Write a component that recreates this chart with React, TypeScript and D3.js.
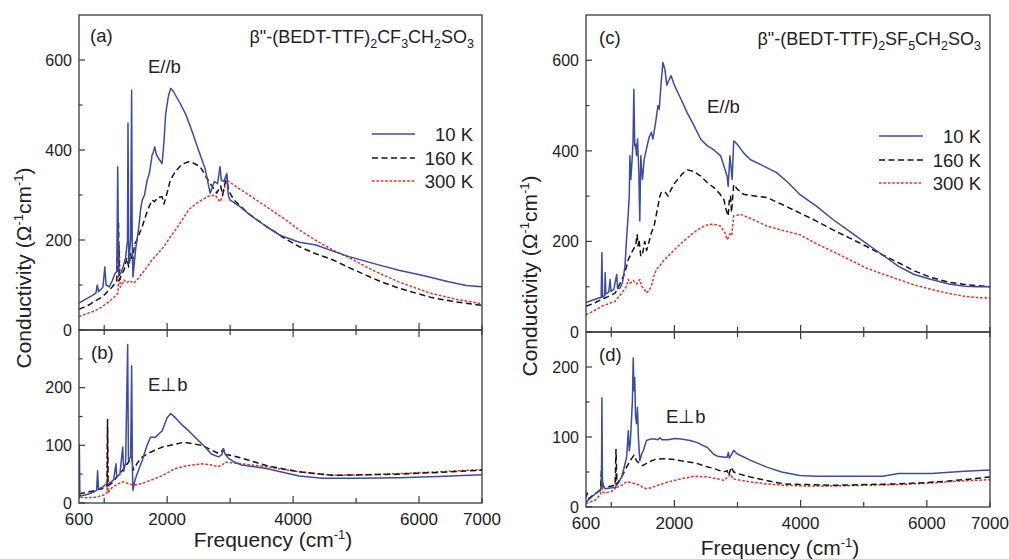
import React from 'react';
import * as d3 from 'd3';

type Pt = [number, number];

// ---------- tick values ----------
const freqTicks = [1000, 2000, 3000, 4000, 5000, 6000, 7000];
const freqMajor = [2000, 4000, 6000];
const freqLabels = [600, 2000, 4000, 6000, 7000];
const upperYLabels = [0, 200, 400, 600];
const upperYMinor = [100, 300, 500];
const lowerYLabels = [0, 100, 200];
const lowerBYMinor = [50, 150, 250];
const lowerDYMinor = [50, 150];
const legendLabels = ['10 K', '160 K', '300 K'];

// ---------- panel (a): CF3CH2SO3, E//b ----------
const a10K: Pt[] = [[600,60],[700,68],[800,76],[868,82],[890,100],[910,85],[980,95],[1010,140],[1030,100],[1080,96],[1130,110],[1170,125],[1200,130],[1215,363],[1230,126],[1262,126],[1300,140],[1340,160],[1370,200],[1378,460],[1390,150],[1420,200],[1436,533],[1445,200],[1457,118],[1500,180],[1551,230],[1580,270],[1605,289],[1640,300],[1683,333],[1720,350],[1762,389],[1780,395],[1803,407],[1830,389],[1870,380],[1920,370],[1950,420],[1977,481],[2020,520],[2056,537],[2100,530],[2200,505],[2290,481],[2400,440],[2497,400],[2600,360],[2683,304],[2750,330],[2800,325],[2840,363],[2860,333],[2900,330],[2946,348],[2970,300],[2997,289],[3155,274],[3350,252],[3576,230],[3800,210],[4101,195],[4365,189],[4600,177],[4890,163],[5300,147],[5679,133],[6100,120],[6468,107],[6750,99],[7000,96]];
const a160K: Pt[] = [[600,46],[700,52],[762,56],[850,64],[974,74],[1050,85],[1131,96],[1200,110],[1228,237],[1240,110],[1280,125],[1315,133],[1360,160],[1390,140],[1420,170],[1450,150],[1480,190],[1520,200],[1560,215],[1605,230],[1650,250],[1700,270],[1762,289],[1800,285],[1850,295],[1920,296],[1950,280],[1990,300],[2050,333],[2130,352],[2230,368],[2340,374],[2430,370],[2524,363],[2600,345],[2682,326],[2787,304],[2850,320],[2880,300],[2946,344],[2975,310],[3060,289],[3300,258],[3576,230],[3850,205],[4101,185],[4350,170],[4627,156],[4900,138],[5153,122],[5400,107],[5679,93],[5950,82],[6204,72],[6600,62],[7000,55]];
const a300K: Pt[] = [[600,30],[700,35],[800,40],[868,44],[950,50],[1078,63],[1150,72],[1220,82],[1240,185],[1255,95],[1315,111],[1360,105],[1400,110],[1473,104],[1540,115],[1605,126],[1680,140],[1762,156],[1850,170],[1947,185],[2040,205],[2131,222],[2240,245],[2340,267],[2450,280],[2552,289],[2650,297],[2762,300],[2840,285],[2870,295],[2900,310],[2946,333],[3060,322],[3300,300],[3576,274],[3850,248],[4101,222],[4350,200],[4627,178],[4900,160],[5153,141],[5400,124],[5679,107],[5950,93],[6204,81],[6600,68],[7000,58]];

// ---------- panel (b): CF3CH2SO3, E perp b ----------
const b10K: Pt[] = [[600,10],[605,100],[612,12],[700,14],[762,16],[850,20],[880,22],[895,56],[910,24],[980,28],[1020,32],[1078,34],[1150,40],[1187,68],[1200,45],[1250,50],[1294,97],[1310,55],[1340,70],[1373,275],[1385,74],[1420,80],[1436,238],[1448,60],[1457,22],[1490,40],[1526,51],[1605,74],[1680,100],[1736,114],[1815,114],[1870,120],[1920,125],[2000,148],[2056,155],[2130,148],[2240,135],[2344,125],[2480,110],[2603,97],[2700,85],[2814,80],[2870,84],[2893,94],[2920,85],[2970,78],[3050,72],[3181,66],[3576,60],[3850,53],[4096,47],[4465,43],[5000,43],[5679,44],[6300,46],[7000,49]];
const b160K: Pt[] = [[600,16],[700,18],[868,22],[1000,26],[1045,30],[1053,145],[1062,30],[1120,34],[1200,45],[1294,57],[1373,69],[1440,80],[1460,57],[1530,70],[1605,80],[1736,88],[1920,97],[2131,102],[2250,105],[2344,104],[2552,100],[2700,92],[2814,86],[2870,90],[2893,94],[2930,84],[3000,83],[3181,78],[3576,65],[3850,59],[4101,54],[4627,48],[5200,49],[5679,50],[6300,53],[7000,57]];
const b300K: Pt[] = [[600,8],[604,100],[610,10],[700,9],[868,10],[1000,14],[1045,18],[1053,131],[1062,18],[1136,28],[1200,32],[1294,37],[1400,33],[1473,31],[1605,34],[1750,40],[1870,45],[2000,52],[2131,60],[2340,65],[2552,68],[2700,66],[2814,63],[2880,66],[2918,71],[3000,70],[3181,68],[3576,63],[3850,58],[4101,54],[4627,48],[5200,49],[5679,51],[6300,54],[7000,58]];

// ---------- panel (c): SF5CH2SO3, E//b ----------
const c10K: Pt[] = [[600,65],[700,70],[800,75],[840,76],[852,175],[862,77],[895,80],[904,131],[915,84],[960,88],[982,116],[995,90],[1040,94],[1087,127],[1100,96],[1139,97],[1180,110],[1217,145],[1240,200],[1270,263],[1285,300],[1296,389],[1310,337],[1330,380],[1345,420],[1358,536],[1372,411],[1385,415],[1400,390],[1416,426],[1437,352],[1452,245],[1468,389],[1480,360],[1495,337],[1520,380],[1557,404],[1600,430],[1635,441],[1660,426],[1700,460],[1740,500],[1760,492],[1790,550],[1818,595],[1850,580],[1880,545],[1897,551],[1948,566],[2000,545],[2105,514],[2200,485],[2313,455],[2420,425],[2523,411],[2627,402],[2732,389],[2800,360],[2836,344],[2852,322],[2868,360],[2880,389],[2900,360],[2915,337],[2940,422],[2992,415],[3100,395],[3201,381],[3463,363],[3620,352],[3800,330],[3984,304],[4250,278],[4506,249],[4770,223],[5029,197],[5300,170],[5551,145],[5800,127],[6072,116],[6350,106],[6595,101],[6800,100],[7000,100]];
const c160K: Pt[] = [[600,57],[700,62],[852,72],[950,78],[1061,86],[1150,110],[1217,131],[1270,160],[1322,175],[1360,185],[1385,190],[1410,215],[1425,190],[1440,204],[1468,167],[1500,175],[1530,200],[1560,180],[1600,200],[1635,219],[1680,235],[1740,278],[1770,300],[1792,308],[1850,310],[1900,300],[1948,315],[2000,328],[2053,337],[2130,350],[2210,358],[2300,355],[2418,344],[2520,330],[2627,319],[2720,305],[2783,293],[2820,270],[2852,256],[2870,290],[2890,300],[2905,264],[2940,326],[3000,315],[3097,304],[3300,300],[3463,297],[3700,282],[3984,263],[4250,245],[4506,226],[4770,208],[5029,190],[5300,170],[5551,153],[5800,135],[6072,120],[6350,110],[6595,105],[7000,100]];
const c300K: Pt[] = [[600,38],[700,45],[852,57],[950,62],[1061,68],[1165,86],[1243,101],[1270,116],[1300,108],[1350,114],[1400,106],[1452,116],[1480,101],[1520,95],[1557,86],[1600,92],[1635,101],[1680,125],[1714,138],[1760,145],[1844,160],[1920,170],[2001,182],[2100,195],[2209,208],[2310,220],[2418,230],[2500,236],[2575,238],[2650,237],[2730,234],[2800,219],[2836,204],[2860,210],[2890,219],[2910,215],[2940,256],[3045,260],[3250,248],[3463,234],[3700,225],[3984,215],[4250,195],[4506,178],[4770,160],[5029,142],[5300,128],[5551,116],[5800,104],[6072,94],[6350,85],[6595,79],[6800,76],[7000,75]];

// ---------- panel (d): SF5CH2SO3, E perp b ----------
const d10K: Pt[] = [[600,7],[700,15],[748,19],[830,25],[845,30],[852,156],[860,38],[875,30],[904,26],[980,27],[1061,28],[1120,35],[1165,43],[1200,55],[1243,71],[1260,95],[1270,109],[1285,80],[1300,90],[1322,128],[1335,150],[1348,213],[1360,166],[1372,185],[1385,130],[1400,119],[1415,142],[1430,100],[1452,66],[1480,75],[1510,81],[1557,95],[1620,97],[1687,97],[1740,96],[1766,99],[1810,96],[1900,96],[2000,98],[2105,97],[2250,95],[2366,92],[2450,88],[2523,85],[2627,75],[2700,72],[2800,71],[2836,71],[2855,78],[2870,70],[2900,74],[2940,81],[2992,76],[3200,67],[3463,57],[3700,50],[3984,45],[4250,44],[4506,44],[5029,44],[5300,44],[5551,48],[6072,48],[6595,51],[7000,53]];
const d160K: Pt[] = [[600,14],[620,20],[640,12],[748,19],[830,24],[852,66],[862,30],[904,28],[1000,30],[1061,31],[1075,82],[1090,33],[1165,43],[1243,57],[1322,69],[1360,74],[1400,66],[1452,62],[1500,59],[1583,64],[1700,68],[1844,69],[2000,68],[2105,66],[2250,64],[2366,62],[2500,58],[2627,55],[2780,50],[2836,52],[2860,45],[2900,57],[2940,50],[2992,48],[3201,43],[3450,38],[3724,33],[4100,32],[4506,31],[5029,32],[5551,33],[6000,35],[6333,37],[6700,40],[7000,43]];
const d300K: Pt[] = [[600,5],[748,10],[830,18],[852,64],[862,22],[904,20],[1000,22],[1061,26],[1075,55],[1090,28],[1165,31],[1243,36],[1300,35],[1385,33],[1452,31],[1500,28],[1557,26],[1650,28],[1740,31],[1870,35],[2001,38],[2150,41],[2313,44],[2523,43],[2700,40],[2783,38],[2850,43],[2890,47],[2930,40],[3000,39],[3201,36],[3450,33],[3724,31],[4100,30],[4506,30],[5029,31],[5551,32],[6000,34],[6500,37],[7000,39]];

// ---------- styles ----------
const BLUE = '#3a4ca3';
const BLACK = '#151515';
const RED = '#e6321e';
const AXIS = '#3a3a3a';
const FONT = 'Arial, "Liberation Sans", Helvetica, sans-serif';
const seriesStyles = [
  { color: BLUE, dash: undefined as string | undefined, width: 1.5 },
  { color: BLACK, dash: '6,3.5', width: 1.5 },
  { color: RED, dash: '2.6,1.8', width: 1.5 },
];

interface PanelDef {
  x0: number; x1: number; top: number; bottom: number; ymax: number;
  labels: number[]; minor: number[]; data: Pt[][];
  isLower: boolean;
}

function Panel({ p }: { p: PanelDef }) {
  const x = d3.scaleLinear().domain([600, 7000]).range([p.x0, p.x1]);
  const y = d3.scaleLinear().domain([0, p.ymax]).range([p.bottom, p.top]);
  const line = d3.line<Pt>().x(d => x(d[0])).y(d => y(Math.min(d[1], p.ymax)));
  const clipId = `clip-${p.x0}-${p.top}`;
  return (
    <g>
      <defs>
        <clipPath id={clipId}>
          <rect x={p.x0} y={p.top} width={p.x1 - p.x0} height={p.bottom - p.top} />
        </clipPath>
      </defs>
      <g clipPath={`url(#${clipId})`}>
        {[2, 1, 0].map(i => (
          <path key={i} d={line(p.data[i]) || ''} fill="none" stroke={seriesStyles[i].color}
            strokeWidth={seriesStyles[i].width} strokeDasharray={seriesStyles[i].dash}
            strokeLinejoin="round" />
        ))}
      </g>
      <rect x={p.x0} y={p.top} width={p.x1 - p.x0} height={p.bottom - p.top}
        fill="none" stroke={AXIS} strokeWidth={1.3} />
      {p.labels.map(v => (
        <g key={'yl' + v}>
          <line x1={p.x0} x2={p.x0 + 6} y1={y(v)} y2={y(v)} stroke={AXIS} strokeWidth={1.2} />
          <text x={p.x0 - 7} y={y(v)} dy="0.36em" textAnchor="end" fontSize={16}
            fontFamily={FONT} fill="#222">{v}</text>
        </g>
      ))}
      {p.minor.map(v => (
        <line key={'ym' + v} x1={p.x0} x2={p.x0 + 3.5} y1={y(v)} y2={y(v)} stroke={AXIS} strokeWidth={1.2} />
      ))}
      {freqTicks.map(f => {
        const len = freqMajor.includes(f) ? 7 : 5;
        return <line key={'xb' + f} x1={x(f)} x2={x(f)} y1={p.bottom} y2={p.bottom - len} stroke={AXIS} strokeWidth={1.2} />;
      })}
      {p.isLower && freqTicks.map(f => {
        const len = freqMajor.includes(f) ? 7 : 5;
        return <line key={'xt' + f} x1={x(f)} x2={x(f)} y1={p.top} y2={p.top + len} stroke={AXIS} strokeWidth={1.2} />;
      })}
      {p.isLower && freqLabels.map(f => (
        <text key={'xl' + f} x={x(f)} y={p.bottom + 22} textAnchor="middle" fontSize={17}
          fontFamily={FONT} fill="#222">{f}</text>
      ))}
    </g>
  );
}

function Legend({ xl0, xl1, xt, ys }: { xl0: number; xl1: number; xt: number; ys: number[] }) {
  return (
    <g>
      {legendLabels.map((lab, i) => (
        <g key={lab}>
          <line x1={xl0} x2={xl1} y1={ys[i]} y2={ys[i]} stroke={seriesStyles[i].color}
            strokeWidth={1.6} strokeDasharray={seriesStyles[i].dash} />
          <text x={xt} y={ys[i]} dy="0.36em" textAnchor="end" fontSize={18.5}
            fontFamily={FONT} fill="#222">{lab}</text>
        </g>
      ))}
    </g>
  );
}

function Formula({ x, y, anion }: { x: number; y: number; anion: [string, string] }) {
  return (
    <text x={x} y={y} textAnchor="end" fontSize={18} fontFamily={FONT} fill="#222">
      <tspan>β"-(BEDT-TTF)</tspan>
      <tspan dy={5} fontSize={12.5}>2</tspan>
      <tspan dy={-5}>{anion[0]}</tspan>
      <tspan dy={5} fontSize={12.5}>{anion[1]}</tspan>
      <tspan dy={-5}>CH</tspan>
      <tspan dy={5} fontSize={12.5}>2</tspan>
      <tspan dy={-5}>SO</tspan>
      <tspan dy={5} fontSize={12.5}>3</tspan>
    </text>
  );
}

function YTitle({ x, y }: { x: number; y: number }) {
  return (
    <text transform={`translate(${x},${y}) rotate(-90)`} textAnchor="middle" dy="0.35em"
      fontSize={21} fontFamily={FONT} fill="#222">
      <tspan>Conductivity (Ω</tspan>
      <tspan dy={-8} fontSize={13}>-1</tspan>
      <tspan dy={8}>cm</tspan>
      <tspan dy={-8} fontSize={13}>-1</tspan>
      <tspan dy={8}>)</tspan>
    </text>
  );
}

function XTitle({ x, y }: { x: number; y: number }) {
  return (
    <text x={x} y={y} textAnchor="middle" fontSize={21} fontFamily={FONT} fill="#222">
      <tspan>Frequency (cm</tspan>
      <tspan dy={-8} fontSize={13}>-1</tspan>
      <tspan dy={8}>)</tspan>
    </text>
  );
}

export default function App() {
  const L = { x0: 79, x1: 482 };
  const R = { x0: 586, x1: 990 };
  const panels: PanelDef[] = [
    { ...L, top: 15, bottom: 330, ymax: 700, labels: upperYLabels, minor: upperYMinor, data: [a10K, a160K, a300K], isLower: false },
    { ...L, top: 330, bottom: 503, ymax: 300, labels: lowerYLabels, minor: lowerBYMinor, data: [b10K, b160K, b300K], isLower: true },
    { ...R, top: 15, bottom: 332, ymax: 700, labels: upperYLabels, minor: upperYMinor, data: [c10K, c160K, c300K], isLower: false },
    { ...R, top: 332, bottom: 507, ymax: 250, labels: lowerYLabels, minor: lowerDYMinor, data: [d10K, d160K, d300K], isLower: true },
  ];
  const txt = { fontSize: 18.5, fontFamily: FONT, fill: '#222' };
  return (
    <svg width={1009} height={559} viewBox="0 0 1009 559"
      style={{ position: 'absolute', left: 0, top: 0, background: '#fff' }}>
      <rect x={0} y={0} width={1009} height={559} fill="#fff" />
      {panels.map((p, i) => <Panel key={i} p={p} />)}
      <text x={90} y={42} {...txt}>(a)</text>
      <text x={148} y={73} {...txt}>E//b</text>
      <text x={91} y={359} {...txt}>(b)</text>
      <text x={148} y={391} {...txt}>E⊥b</text>
      <text x={599} y={44} {...txt}>(c)</text>
      <text x={707} y={113} {...txt}>E//b</text>
      <text x={599} y={361} {...txt}>(d)</text>
      <text x={666} y={423} {...txt}>E⊥b</text>
      <Formula x={474} y={43} anion={['CF', '3']} />
      <Formula x={981} y={45} anion={['SF', '5']} />
      <Legend xl0={372} xl1={415} xt={473} ys={[134, 158, 181]} />
      <Legend xl0={879} xl1={923} xt={981} ys={[136, 160, 183]} />
      <YTitle x={24} y={268} />
      <YTitle x={530} y={276} />
      <XTitle x={273} y={547} />
      <XTitle x={780} y={555} />
    </svg>
  );
}
